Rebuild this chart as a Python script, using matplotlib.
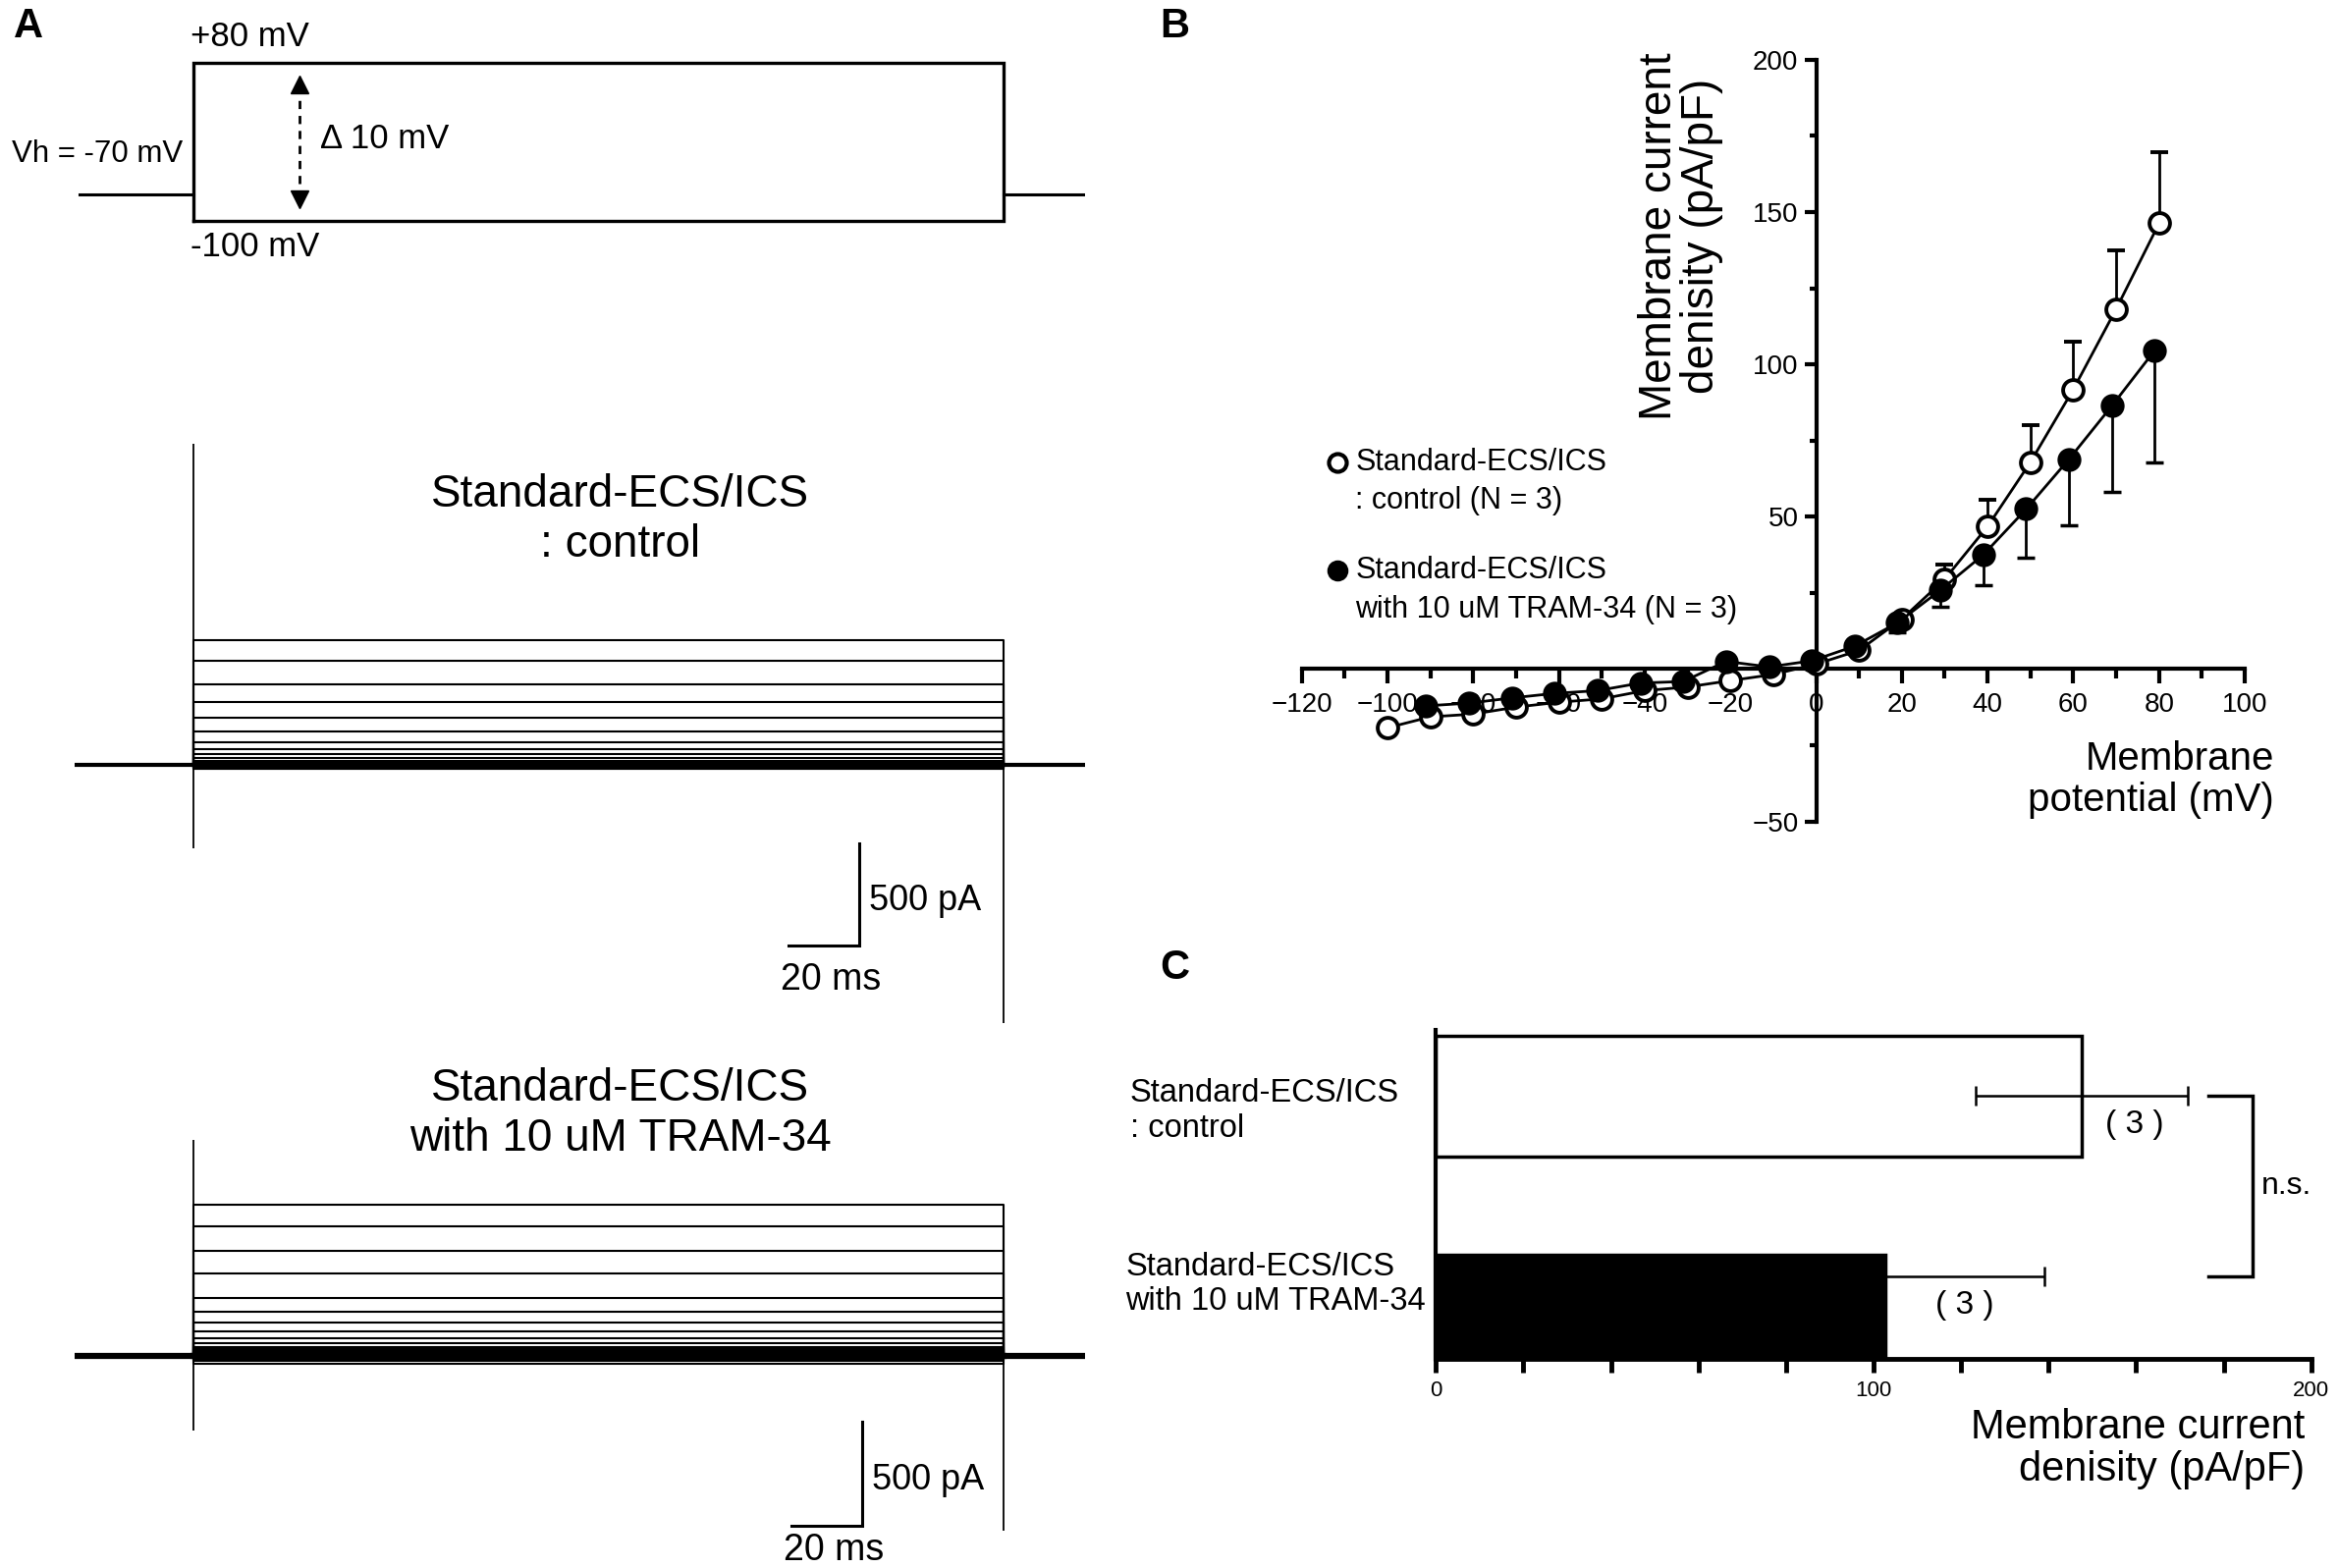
import numpy as np
import matplotlib
matplotlib.use("Agg")
import matplotlib.pyplot as plt
from matplotlib.lines import Line2D
from matplotlib.ticker import MultipleLocator, FixedLocator

plt.rcParams['font.family'] = ['Liberation Sans', 'DejaVu Sans']

# ---------------- data ----------------
# A: voltage protocol (mV) and timing (ms)
v_hold = -70
v_first = -100
v_last = 80
t_pre = 34.0
t_step = 231.0
t_post = 23.5

# steady current of each trace (pA), +80 mV first
control_levels = [615, 509, 394, 307, 231, 163, 110, 77, 52, 33, 19, 10, 4, 0, -6, -10, -14, -18, -22]
tram_levels = [731, 626, 507, 397, 279, 215, 161, 118, 84, 63, 45, 34, 25, 15, 5, -6, -15, -25, -35]
# capacitive transients: onset peak, onset trough, tail trough (pA)
control_transients = [1580, -412, -1270]
tram_transients = [1044, -360, -842]

# B: I-V relation (pA/pF)
control_mv = [-100, -90, -80, -70, -60, -50, -40, -30, -20, -10, 0, 10, 20, 30, 40, 50, 60, 70, 80]
control_iv = [-19.3, -15.7, -14.8, -12.5, -10.9, -9.8, -7.1, -5.9, -3.8, -1.8, 1.6, 6.1,
              16.4, 29.5, 46.8, 67.9, 91.8, 118.2, 146.3]
control_err = [0.5, 0.5, 0.5, 0.5, 0.5, 0.5, 0.5, 0.5, 0.5, 0.5, 0.5, 0.5,
               1.0, 4.8, 8.7, 12.3, 15.7, 19.1, 23.3]
tram_mv = [-90, -80, -70, -60, -50, -40, -30, -20, -10, 0, 10, 20, 30, 40, 50, 60, 70, 80]
tram_iv = [-12.1, -11.2, -9.5, -8.0, -7.1, -4.6, -4.1, 2.5, 0.7, 2.7, 7.5,
           15.2, 25.9, 37.5, 52.5, 68.9, 86.4, 104.6]
tram_err = [0.5, 0.5, 0.5, 0.5, 0.5, 0.5, 0.5, 0.5, 0.5, 0.5, 1.0,
            3.2, 5.5, 10.0, 15.9, 21.6, 28.4, 36.7]

# C: current density at +80 mV
groups = ["Standard-ECS/ICS\n: control", "Standard-ECS/ICS\nwith 10 uM TRAM-34"]
bar_mean = [147.5, 102.6]
bar_sem = [24.2, 36.5]
bar_n = [3, 3]

# ---------------- layout helpers (reference pixel grid 1568 x 1050) ----------------
W, H = 1568.0, 1050.0


def rect(x0, y0, x1, y1):
    return [x0 / W, 1 - y1 / H, (x1 - x0) / W, (y1 - y0) / H]


def fx(x):
    return x / W


def fy(y):
    return 1 - y / H


fig = plt.figure(figsize=(23.81, 15.97), dpi=100)

t_on = t_pre
t_off = t_pre + t_step
t_end = t_off + t_post

# ---------------- A: protocol ----------------
ax_p = fig.add_axes(rect(50, 20, 728, 170))
ax_p.set_xlim(0, t_end)
ax_p.set_ylim(-137.4, 117.4)
ax_p.axis('off')
ax_p.plot([1.5, t_on], [v_hold, v_hold], color='k', lw=2.2)
ax_p.plot([t_off, t_end], [v_hold, v_hold], color='k', lw=2.2)
ax_p.plot([t_on, t_on, t_off, t_off, t_on], [v_first, v_last, v_last, v_first, v_first],
          color='k', lw=2.4, solid_joinstyle='miter')
t_arrow = 64.3
ax_p.plot([t_arrow, t_arrow], [54, -74], color='k', lw=2, ls=(0, (3, 2.5)))
ax_p.plot([t_arrow], [55], marker='^', color='k', ms=13)
ax_p.plot([t_arrow], [-75], marker='v', color='k', ms=13)
ax_p.text(t_on - 1, v_last + 29, "+80 mV", fontsize=25, ha='left', va='center')
ax_p.text(t_on - 1, v_first - 29, "-100 mV", fontsize=25, ha='left', va='center')
ax_p.text(t_on - 3, -24, "Vh = -70 mV", fontsize=22.5, ha='right', va='center')
ax_p.text(70.2, -6.6, "Δ 10 mV", fontsize=25, ha='left', va='center')


# ---------------- A: current traces ----------------
def draw_traces(ax, levels, transients, base_lw):
    for lev in levels:
        ax.plot([t_on, t_on, t_off, t_off], [0, lev, lev, 0], color='k', lw=1.5)
    ax.plot([0, t_on], [0, 0], color='k', lw=base_lw)
    ax.plot([t_off, t_end], [0, 0], color='k', lw=base_lw)
    ax.plot([t_on, t_off], [0, 0], color='k', lw=base_lw)
    peak, trough, tail = transients
    ax.vlines(t_on, trough, peak, color='k', lw=1.3)
    ax.vlines(t_off, tail, max(levels), color='k', lw=1.3)
    ax.set_xlim(0, t_end)
    ax.axis('off')


def scale_bar(ax, t_c, i_c, ms_drop):
    ax.plot([t_c - 20, t_c, t_c], [i_c, i_c, i_c + 500], color='k', lw=2.2,
            solid_joinstyle='miter', clip_on=False)
    ax.text(t_c + 3, i_c + 220, "500 pA", fontsize=26, ha='left', va='center', clip_on=False)
    ax.text(t_c - 8, i_c - ms_drop, "20 ms", fontsize=27, ha='center', va='center', clip_on=False)


ax_t1 = fig.add_axes(rect(50, 290, 728, 690))
draw_traces(ax_t1, control_levels, control_transients, 3.0)
ax_t1.set_ylim(-1308, 1632)
scale_bar(ax_t1, 223.8, -889, 170)

ax_t2 = fig.add_axes(rect(50, 700, 728, 1045))
draw_traces(ax_t2, tram_levels, tram_transients, 4.5)
ax_t2.set_ylim(-986, 1498)
scale_bar(ax_t2, 224.7, -817, 120)

fig.text(fx(416), fy(348), "Standard-ECS/ICS\n: control", fontsize=33,
         ha='center', va='center', multialignment='center')
fig.text(fx(416), fy(746), "Standard-ECS/ICS\nwith 10 uM TRAM-34", fontsize=33,
         ha='center', va='center', multialignment='center')

# ---------------- B: I-V ----------------
ax_b = fig.add_axes(rect(873, 40, 1505.5, 550))
ax_b.set_xlim(-120, 100)
ax_b.set_ylim(-50, 200)
for s in ['top', 'right']:
    ax_b.spines[s].set_visible(False)
ax_b.spines['left'].set_position(('data', 0))
ax_b.spines['bottom'].set_position(('data', 0))
ax_b.spines['left'].set_linewidth(3)
ax_b.spines['bottom'].set_linewidth(3)
ax_b.xaxis.set_major_locator(MultipleLocator(20))
ax_b.xaxis.set_minor_locator(MultipleLocator(10))
ax_b.yaxis.set_major_locator(FixedLocator([-50, 50, 100, 150, 200]))
ax_b.yaxis.set_minor_locator(FixedLocator([-25, 25, 75, 125, 175]))
ax_b.tick_params(axis='x', which='major', direction='out', length=11, width=3, labelsize=20, pad=6)
ax_b.tick_params(axis='x', which='minor', direction='out', length=7, width=3)
ax_b.tick_params(axis='y', which='major', direction='out', length=9, width=3, labelsize=20, pad=4)
ax_b.tick_params(axis='y', which='minor', direction='out', length=5, width=3)

n_c = len(control_mv)
ax_b.errorbar(control_mv, control_iv, yerr=[np.zeros(n_c), control_err], fmt='-o', color='k',
              mfc='white', mec='k', ms=15, mew=2.8, lw=2, elinewidth=2, capsize=6.5,
              capthick=2, clip_on=False, zorder=3)
n_t = len(tram_mv)
ax_b.errorbar(np.array(tram_mv) - 1, tram_iv, yerr=[tram_err, np.zeros(n_t)], fmt='-o', color='k',
              mfc='k', mec='k', ms=15, mew=2.5, lw=2, elinewidth=2, capsize=6.5,
              capthick=2, clip_on=False, zorder=4)

# legend drawn by hand
fig.add_artist(Line2D([fx(897)], [fy(310)], marker='o', ms=13, mfc='white', mec='k', mew=3,
                      transform=fig.transFigure))
fig.add_artist(Line2D([fx(897)], [fy(382)], marker='o', ms=13, mfc='k', mec='k', mew=2.5,
                      transform=fig.transFigure))
fig.text(fx(909), fy(310), "Standard-ECS/ICS", fontsize=22, ha='left', va='center')
fig.text(fx(909), fy(335), ": control (N = 3)", fontsize=22, ha='left', va='center')
fig.text(fx(909), fy(382), "Standard-ECS/ICS", fontsize=22, ha='left', va='center')
fig.text(fx(909), fy(408), "with 10 uM TRAM-34 (N = 3)", fontsize=22, ha='left', va='center')

fig.text(fx(1127), fy(158), "Membrane current\ndenisity (pA/pF)", fontsize=33, rotation=90,
         ha='center', va='center', multialignment='center', linespacing=0.98)
fig.text(fx(1525), fy(522), "Membrane\npotential (mV)", fontsize=29, ha='right', va='center',
         multialignment='right', linespacing=1.13)

# ---------------- C: bars ----------------
ax_c = fig.add_axes(rect(963, 690, 1550, 910))
ypos = [1, 0]
err_y = [1, 0.175]
ax_c.barh(ypos, bar_mean, height=0.55, color=['white', 'black'], edgecolor='black',
          linewidth=2.5, zorder=2)
ax_c.errorbar(bar_mean, err_y, xerr=[[bar_sem[0], 0], [bar_sem[0], bar_sem[1]]], fmt='none',
              ecolor='k', elinewidth=1.8, capsize=7, capthick=1.8, zorder=3)
for m, e, y, n in zip(bar_mean, bar_sem, err_y, bar_n):
    ax_c.text(m + e / 2, y - 0.13, "( %d )" % n, fontsize=24, ha='center', va='center')
ax_c.set_xlim(0, 200)
ax_c.set_ylim(-0.2, 1.3)
for s in ['top', 'right']:
    ax_c.spines[s].set_visible(False)
ax_c.spines['left'].set_linewidth(3)
ax_c.spines['bottom'].set_linewidth(3.5)
ax_c.set_yticks([])
ax_c.xaxis.set_major_locator(FixedLocator([0, 100, 200]))
ax_c.xaxis.set_minor_locator(MultipleLocator(20))
ax_c.tick_params(axis='x', which='both', direction='out', length=10, width=3.5, labelsize=16, pad=6)

# n.s. bracket
ax_c.plot([176.5, 186.7, 186.7, 176.5], [err_y[0], err_y[0], err_y[1], err_y[1]], color='k',
          lw=2.5, clip_on=False, solid_joinstyle='miter')
ax_c.text(188.6, (err_y[0] + err_y[1]) / 2, "n.s.", fontsize=23, ha='left', va='center')

fig.text(fx(758), fy(744), groups[0], fontsize=23.5, ha='left', va='center', linespacing=1.2)
fig.text(fx(755), fy(860), groups[1], fontsize=23.5, ha='left', va='center', linespacing=1.2)
fig.text(fx(1546), fy(970), "Membrane current\ndenisity (pA/pF)", fontsize=30, ha='right',
         va='center', multialignment='right', linespacing=1.1)

# panel letters
fig.text(fx(9), fy(18), "A", fontsize=30, weight='bold', ha='left', va='center')
fig.text(fx(778), fy(18), "B", fontsize=30, weight='bold', ha='left', va='center')
fig.text(fx(778), fy(648), "C", fontsize=30, weight='bold', ha='left', va='center')

fig.savefig("out.png", dpi=100)
